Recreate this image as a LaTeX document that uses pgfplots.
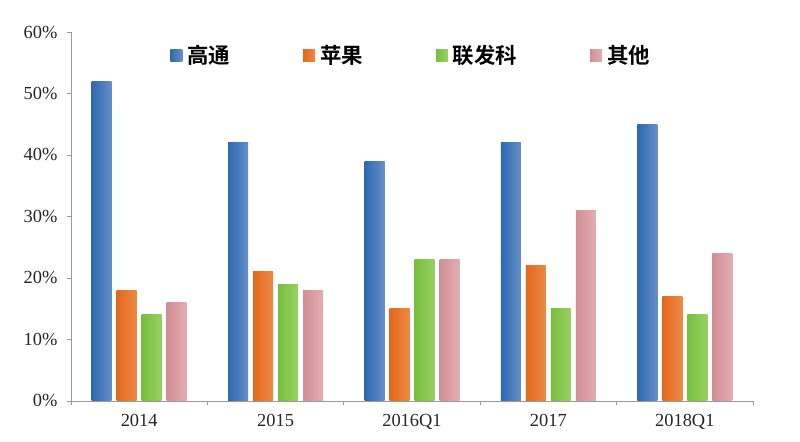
\documentclass[border=0pt]{standalone}
\usepackage{fontspec}
\setmainfont{Liberation Serif}
\newfontfamily\cjk[BoldFont=* Bold]{Noto Sans CJK SC}
\usepackage{pgfplots}
\usepackage{pgfplotstable}
\pgfplotsset{compat=1.18}

\definecolor{bluD}{HTML}{2C69B0}
\definecolor{bluL}{HTML}{A9C3E2}
\definecolor{bluM}{HTML}{6690C8}
\definecolor{orD}{HTML}{E2681C}
\definecolor{orL}{HTML}{FBB47E}
\definecolor{orM}{HTML}{EE8A45}
\definecolor{grD}{HTML}{78BE3E}
\definecolor{grL}{HTML}{CDEBA8}
\definecolor{grM}{HTML}{98D262}
\definecolor{pkD}{HTML}{D28E94}
\definecolor{pkL}{HTML}{F4D8DA}
\definecolor{pkM}{HTML}{E2AEB2}
\definecolor{axgray}{HTML}{9A9A9A}

% x: 0=2014, 1=2015, 2=2016Q1, 3=2017, 4=2018Q1
\pgfplotstableread{
x qc  apple mtk other
0 52  18    14  16
1 42  21    19  18
2 39  15    23  23
3 42  22    15  31
4 45  17    14  24
}\share

\pgfplotsset{
  qcstyle/.style={draw=none, left color=bluD, middle color=bluL, right color=bluM},
  apstyle/.style={draw=none, left color=orD, middle color=orL, right color=orM},
  mkstyle/.style={draw=none, left color=grD, middle color=grL, right color=grM},
  otstyle/.style={draw=none, left color=pkD, middle color=pkL, right color=pkM},
}

% one plot per bar, so that every bar gets its own shading
\newcommand\series[3]{%
  \pgfplotsinvokeforeach{0,1,2,3,4}{%
    \addplot[forget plot, bar shift=#2, #3]
      table[x=x, y=#1, restrict x to domain=##1:##1] {\share};
  }%
}

\begin{document}
\begin{tikzpicture}
\begin{axis}[
  name=ax,
  scale only axis,
  width=682bp, height=369bp,
  ybar, bar width=20bp,
  xmin=-0.5, xmax=4.5,
  ymin=0, ymax=60,
  xtick={0,1,2,3,4},
  xticklabels={2014,2015,2016Q1,2017,2018Q1},
  minor xtick={-0.5,0.5,1.5,2.5,3.5,4.5},
  major x tick style={draw=none},
  minor tick length=4bp,
  ytick={0,10,20,30,40,50,60},
  yticklabel={\pgfmathprintnumber{\tick}\%},
  /pgf/number format/assume math mode=true,
  major tick length=4bp,
  tick align=outside,
  axis x line*=bottom, axis y line*=left,
  axis line style={axgray, line width=0.8pt},
  every tick/.style={axgray, line width=0.8pt},
  tick label style={font=\fontsize{18.5}{20}\selectfont, text=black!85},
  xticklabel style={yshift=-6bp},
  yticklabel style={xshift=-6bp},
  legend columns=4,
  legend style={at={(0.141,0.975)}, anchor=north west, draw=none, fill=none,
    font=\cjk\bfseries\fontsize{21.5}{23}\selectfont,
    /tikz/every odd column/.append style={column sep=3bp},
    /tikz/every even column/.append style={column sep=71bp}},
  legend image code/.code={\path[#1] (0bp,-6bp) rectangle (12bp,6bp);},
]
\series{qc}{-37.5bp}{qcstyle}
\series{apple}{-12.5bp}{apstyle}
\series{mtk}{12.5bp}{mkstyle}
\series{other}{37.5bp}{otstyle}
\addlegendimage{qcstyle}\addlegendentry{高通}
\addlegendimage{apstyle}\addlegendentry{苹果}
\addlegendimage{mkstyle}\addlegendentry{联发科}
\addlegendimage{otstyle}\addlegendentry{其他}
\end{axis}
\path ([shift={(-71bp,-41bp)}]ax.south west) rectangle ([shift={(47bp,32bp)}]ax.north east);
\end{tikzpicture}
\end{document}
